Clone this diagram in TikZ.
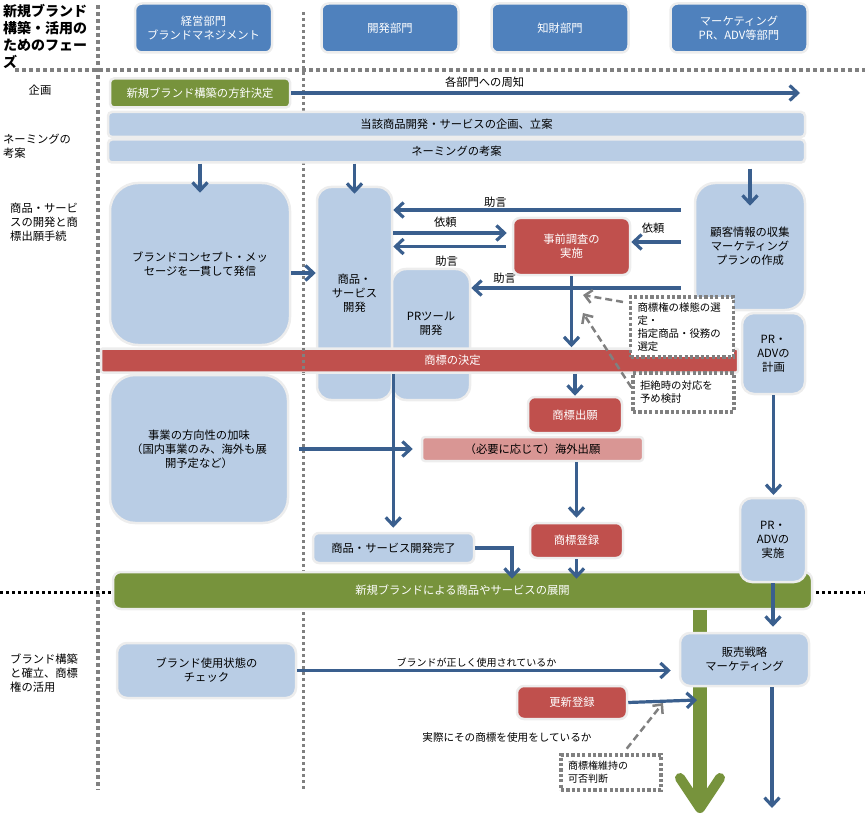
\documentclass[tikz,border=0pt]{standalone}
\usepackage{fontspec}
\setmainfont{Noto Sans CJK JP}
\usetikzlibrary{arrows.meta}
\definecolor{hdrblue}{HTML}{4F81BD}
\definecolor{boxblue}{HTML}{B9CDE5}
\definecolor{tmred}{HTML}{C0504D}
\definecolor{tmpink}{HTML}{D99694}
\definecolor{brgreen}{HTML}{77933C}
\definecolor{arrblue}{HTML}{3A5F8E}
\definecolor{halo}{HTML}{EDEDED}

\begin{document}
\begin{tikzpicture}[x=1pt, y=-1pt, font=\fontsize{11.3}{14}\selectfont,
	card/.style={draw=halo, line width=2.5pt, rounded corners=7pt, align=center, inner sep=2pt},
	dept/.style={card, fill=hdrblue, text=white, minimum width=137pt, minimum height=49pt},
	task/.style={card, fill=boxblue},
	tm/.style={card, fill=tmred, text=white},
	brand/.style={card, fill=brgreen, text=white},
	memo/.style={draw=gray, line width=3.2pt, dash pattern=on 3.2pt off 2.2pt, fill=white, align=left, inner xsep=7pt, font=\fontsize{10.4}{13}\selectfont},
	flow/.style={draw=arrblue, line width=3.2pt, -{Straight Barb[length=8pt,width=15pt]}},
	hint/.style={draw=gray, line width=2.5pt, dash pattern=on 7pt off 4pt, -{Straight Barb[length=7pt,width=13pt]}},
	phaselbl/.style={align=left, anchor=west, inner sep=0pt},
	lbl/.style={inner sep=1pt}]
	\def\gap{13pt}
	\useasboundingbox (0,0) rectangle (865,821);

	\draw[gray, line width=4pt, dash pattern=on 4pt off 3pt] (98,5) -- (98,790);
	\draw[gray, line width=4pt, dash pattern=on 4pt off 3pt] (15,70) -- (865,70);
	\draw[gray, line width=3pt, dash pattern=on 3pt off 3pt] (303,12) -- (303,790);
	\draw[black, line width=3pt, dash pattern=on 3pt off 3pt] (0,592) -- (865,592);

	\node[font=\fontsize{14}{17}\selectfont\bfseries, align=left, anchor=north west, inner sep=0pt] (title) at (3,4) {新規ブランド\\構築・活用の\\ためのフェー\\ズ};
	\node[dept] (mgmt) at (203.5,28) {経営部門\\ブランドマネジメント};
	\node[dept] (dev) at (390,28) {開発部門};
	\node[dept] (ip) at (560,28) {知財部門};
	\node[dept] (mkt) at (739,28) {マーケティング\\PR、ADV等部門};

	\node (ph1) at (40,90) {企画};
	\node[phaselbl] (ph2) at (3,146) {ネーミングの\\考案};
	\node[phaselbl] (ph3) at (10,222) {商品・サービ\\スの開発と商\\標出願手続};
	\node[phaselbl] (ph4) at (10,673) {ブランド構築\\と確立、商標\\権の活用};

	\node[brand, rounded corners=4pt, minimum width=180pt, minimum height=29pt] (policy) at (200,93) {新規ブランド構築の方針決定};
	\coordinate (notify) at (800,93);
	\draw[flow] (policy) -- node[lbl, above=3pt, pos=0.38] {各部門への周知} (notify);
	\node[task, rounded corners=4pt, minimum width=697pt, minimum height=25pt] (planbar) at (456.5,124.5) {当該商品開発・サービスの企画、立案};
	\node[task, rounded corners=4pt, minimum width=697pt, minimum height=23pt] (namebar) at (456.5,151) {ネーミングの考案};

	\node[task, rounded corners=28pt, minimum width=180pt, minimum height=162pt] (concept) at (200,264) {ブランドコンセプト・メッ\\セージを一貫して発信};
	\node[task, rounded corners=14pt, minimum width=75pt, minimum height=213pt] (devbox) at (354.5,293.5) {商品・\\サービス\\開発};
	\node[task, rounded corners=14pt, minimum width=78pt, minimum height=131pt, label={[align=center, yshift=11pt]center:PRツール\\開発}] (prtool) at (431,334.5) {};
	\node[tm, minimum width=117pt, minimum height=57pt] (survey) at (571.5,246.5) {事前調査の\\実施};
	\node[task, rounded corners=20pt, minimum width=110pt, minimum height=127pt] (cust) at (750,246.5) {顧客情報の収集\\マーケティング\\プランの作成};

	\node[tm, rounded corners=2pt, minimum width=637pt, minimum height=24pt, label={[text=white, xshift=33pt]center:商標の決定}] (tmdecide) at (419.5,360.5) {};
	\draw[gray, line width=3pt, dash pattern=on 3pt off 3pt] (303,348) -- (303,373);
	\node[memo, text width=89pt, minimum height=60pt] (note1) at (682,327) {商標権の様態の選\\定・\\指定商品・役務の\\選定};
	\node[memo, text width=87pt, minimum height=39pt] (note2) at (683.5,392.5) {拒絶時の対応を\\予め検討};
	\node[task, rounded corners=12pt, minimum width=63pt, minimum height=81pt] (prplan) at (773.5,353.5) {PR・\\ADVの\\計画};

	\draw[flow] (namebar.south -| concept.north) -- ([yshift=-11pt]concept.north);
	\draw[flow] (namebar.south -| devbox.north) -- ([yshift=-8pt]devbox.north);
	\draw[flow, shorten <=5pt] (namebar.south -| cust.north) -- ([yshift=-24pt]cust.north);
	\draw[flow] ([yshift=-9pt]concept.east) -- ([yshift=-9pt]concept.east -| devbox.west);
	\draw[flow, shorten <=\gap] ([yshift=36.5pt]cust.west) -- node[lbl, above, pos=0.66] {助言} ([yshift=36.5pt]cust.west -| devbox.east);
	\draw[flow, shorten >=5pt] ([yshift=60.5pt]devbox.east) -- node[lbl, above=3pt, pos=0.44] {依頼} ([yshift=60.5pt]devbox.east -| survey.west);
	\draw[flow, shorten <=6pt] (survey.west) -- node[lbl, below=7pt, pos=0.55] {助言} (survey.west -| devbox.east);
	\draw[flow, shorten <=\gap] ([yshift=4.5pt]cust.west) -- node[lbl, above=6pt, pos=0.65] {依頼} ([yshift=4.5pt]cust.west -| survey.east);
	\draw[flow, shorten <=\gap] ([yshift=-41.5pt]cust.west) -- node[lbl, above=2pt, pos=0.85] {助言} ([yshift=-41.5pt]cust.west -| prtool.east);
	\draw[flow] (survey.south) -- (survey.south |- tmdecide.north);

	\coordinate (hinta) at (583,295);
	\coordinate (hintb) at (583,313);
	\draw[hint, shorten <=6pt] ([yshift=24pt]note1.west) -- (hinta);
	\draw[hint] ([yshift=5pt]note2.west) -- (hintb);

	\node[task, rounded corners=25pt, minimum width=178pt, minimum height=148pt] (direction) at (199,449) {事業の方向性の加味\\（国内事業のみ、海外も展\\開予定など）};
	\node[tm, minimum width=94pt, minimum height=36pt] (tmfile) at (575,415) {商標出願};
	\node[card, fill=tmpink, rounded corners=3pt, minimum width=221pt, minimum height=24pt] (overseas) at (532.5,449) {（必要に応じて）海外出願};
	\node[tm, minimum width=93pt, minimum height=35pt] (tmreg) at (576.5,540.5) {商標登録};
	\node[task, rounded corners=6pt, minimum width=161pt, minimum height=30pt] (devdone) at (393.5,548) {商品・サービス開発完了};

	\draw[flow] (tmdecide.south -| tmfile.north) -- (tmfile.north);
	\draw[flow, shorten <=10pt, shorten >=8pt] (direction.east) -- (overseas.west);
	\draw[flow, shorten >=4pt] (overseas.south -| tmreg.north) -- (tmreg.north);
	\draw[flow, shorten >=4pt] (tmdecide.south -| devbox.east) -- (devdone.north -| devbox.east);

	\node[brand, rounded corners=8pt, minimum width=699pt, minimum height=37pt] (rollout) at (462.5,590.5) {新規ブランドによる商品やサービスの展開};
	\draw[flow, shorten >=-8pt] (tmreg.south) -- (tmreg.south |- rollout.north);
	\draw[flow, shorten >=-8pt] (devdone.east) -| ([xshift=49.5pt]rollout.north);
	\draw[flow] (prplan.south) -- (prplan.south |- 0,495);

	\coordinate (brandend) at (700,813);
	\draw[brgreen, line width=14pt, -{Straight Barb[round, length=30pt, width=40pt, line width=10pt]}] (rollout.south -| brandend) -- (brandend);

	\node[task, rounded corners=12pt, minimum width=66pt, minimum height=84pt] (prrun) at (773,540) {PR・\\ADVの\\実施};
	\node[task, rounded corners=10pt, minimum width=129pt, minimum height=53pt] (sales) at (744.5,659.5) {販売戦略\\マーケティング};
	\draw[flow, shorten >=5pt] (prrun.south) -- (prrun.south |- sales.north);
	\coordinate (salesend) at (772,808);
	\draw[flow] (sales.south -| salesend) -- (salesend);

	\node[task, rounded corners=10pt, minimum width=179pt, minimum height=55pt] (check) at (206.5,670.5) {ブランド使用状態の\\チェック};
	\draw[flow, shorten >=8pt] (check.east) -- node[lbl, above=1pt, pos=0.47, font=\fontsize{10}{12}\selectfont] {ブランドが正しく使用されているか} (check.east -| sales.west);

	\node[tm, minimum width=110pt, minimum height=33pt] (renew) at (572,702.5) {更新登録};
	\coordinate (renewend) at (697,700);
	\draw[flow] (renew.east) -- (renewend);
	\node[font=\fontsize{10.6}{13}\selectfont] (usage) at (507,737) {実際にその商標を使用をしているか};
	\node[memo, text width=86pt, minimum height=35pt, font=\fontsize{10}{13}\selectfont] (note3) at (611,772.5) {商標権維持の\\可否判断};
	\coordinate (hintc) at (663,703);
	\draw[hint, shorten <=6pt] ([xshift=12pt]note3.north) -- (hintc);
\end{tikzpicture}
\end{document}
